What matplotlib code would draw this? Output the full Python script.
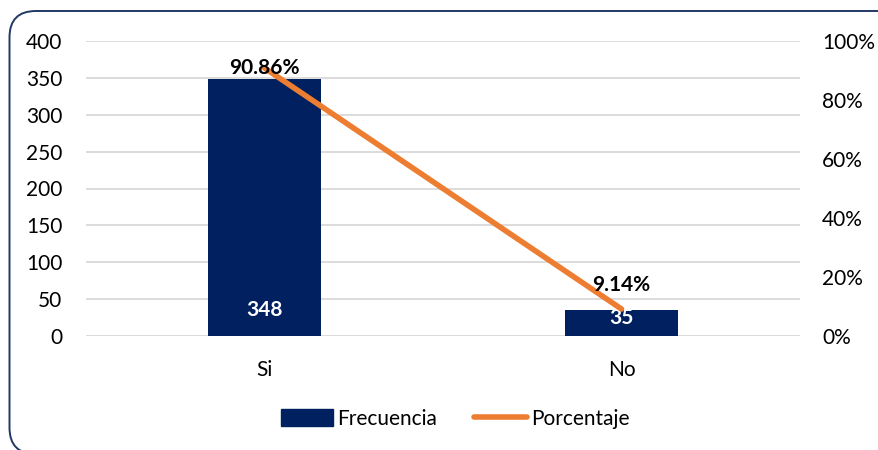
import matplotlib
matplotlib.use("Agg")
import matplotlib.pyplot as plt
from matplotlib.patches import FancyBboxPatch
from matplotlib.lines import Line2D
from matplotlib.patches import Patch

categories = ["Si", "No"]
frecuencia = [348, 35]
porcentaje = [90.86, 9.14]
left_ticks = [0, 50, 100, 150, 200, 250, 300, 350, 400]
right_ticks = [0, 20, 40, 60, 80, 100]

NAVY = "#002060"
ORANGE = "#ED7D31"
FS = 15
plt.rcParams['font.family'] = ['Lato', 'DejaVu Sans']

fig = plt.figure(figsize=(8.79, 4.5), dpi=100)
W, H = 879, 450
border = FancyBboxPatch((9.5 / W, -4 / H), 900 / W, (450 + 4 - 11) / H,
                        boxstyle="round,pad=0,rounding_size=0.03",
                        transform=fig.transFigure, facecolor="none",
                        edgecolor="#1F3864", linewidth=1.4, mutation_aspect=W / H,
                        zorder=-1)
fig.patches.append(border)

ax = fig.add_axes([86 / W, 1 - 336 / H, 714 / W, 295 / H])
ax.set_facecolor("none")
x = list(range(len(categories)))
ax.bar(x, frecuencia, width=0.314, color=NAVY, zorder=2)
ax.set_xlim(-0.5, 1.5)
ax.set_ylim(0, 400)
ax.set_yticks(left_ticks)
ax.set_xticks(x)
ax.set_xticklabels(categories)
ax.grid(axis="y", color="#D9D9D9", linewidth=1.3, zorder=0)
ax.set_axisbelow(True)
for s in ax.spines.values():
    s.set_visible(False)
ax.tick_params(length=0, labelsize=FS, colors="black")
ax.tick_params(axis="y", pad=17)
ax.tick_params(axis="x", pad=17)

ax2 = ax.twinx()
ax2.plot(x, porcentaje, color=ORANGE, linewidth=4, solid_capstyle="round", zorder=3)
ax2.set_ylim(0, 100)
ax2.set_yticks(right_ticks)
ax2.set_yticklabels([f"{t}%" for t in right_ticks])
for s in ax2.spines.values():
    s.set_visible(False)
ax2.tick_params(length=0, labelsize=FS, pad=16, colors="black")

# labels
ax2.annotate(f"{porcentaje[0]:.2f}%", (x[0], porcentaje[0]), xytext=(0, 0),
             textcoords="offset points", ha="center", va="center",
             fontsize=FS, fontweight="bold", zorder=5)
ax2.annotate(f"{porcentaje[1]:.2f}%", (x[1], porcentaje[1]), xytext=(0, 17),
             textcoords="offset points", ha="center", va="center",
             fontsize=FS, fontweight="bold", zorder=5)
ax.annotate(f"{frecuencia[0]}", (x[0], 0), xytext=(0, 19),
            textcoords="offset points", ha="center", va="center",
            fontsize=FS, fontweight="bold", color="white", zorder=5)
ax.annotate(f"{frecuencia[1]}", (x[1], 0), xytext=(0, 13),
            textcoords="offset points", ha="center", va="center",
            fontsize=FS, fontweight="bold", color="white", zorder=5)

handles = [Patch(facecolor=NAVY, edgecolor=NAVY),
           Line2D([0], [0], color=ORANGE, linewidth=4, solid_capstyle="round")]
fig.legend(handles, ["Frecuencia", "Porcentaje"], loc="center",
           bbox_to_anchor=(455 / W, 1 - 419 / H), ncol=2, frameon=False,
           fontsize=FS, handlelength=2.5, handleheight=0.9, columnspacing=1.8,
           handletextpad=0.2)

fig.savefig("out.png", dpi=100)
